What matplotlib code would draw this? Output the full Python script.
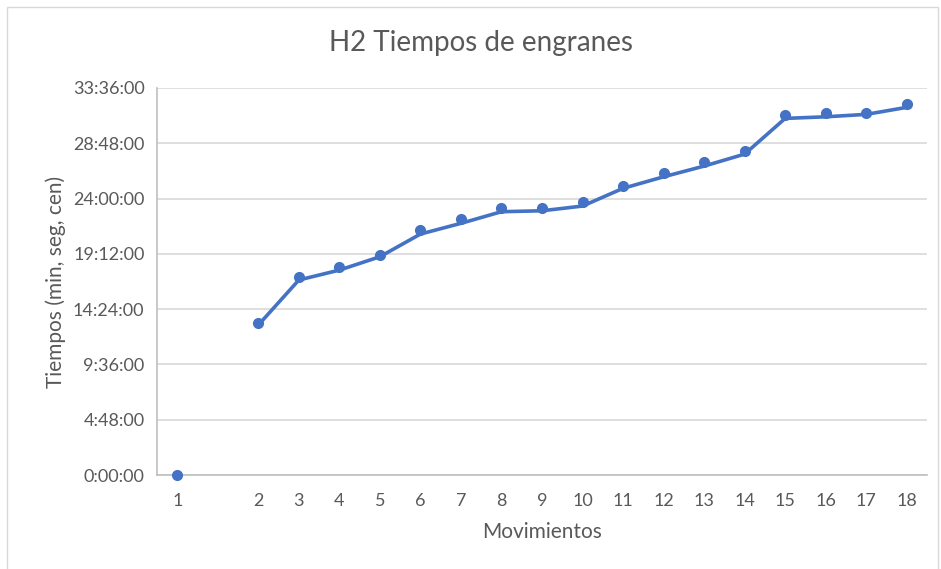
import numpy as np
import matplotlib
matplotlib.use('Agg')
import matplotlib.pyplot as plt
from matplotlib.ticker import FuncFormatter, MultipleLocator
from matplotlib.patches import Rectangle

plt.rcParams['font.family'] = ['Lato', 'DejaVu Sans']

# categories as on the sheet: an empty slot sits between 1 and 2
categories = ['1', '', '2', '3', '4', '5', '6', '7', '8', '9', '10',
              '11', '12', '13', '14', '15', '16', '17', '18']

# times, in the displayed first field (h of h:mm:ss)
puntos = [0.0, np.nan, 13.17, 17.21, 18.08, 19.10, 21.27, 22.19, 23.15, 23.15,
          23.72, 25.09, 26.19, 27.20, 28.15, 31.25, 31.40, 31.40, 32.20]
linea = [np.nan, np.nan, 13.02, 16.93, 17.79, 18.95, 20.92, 21.85, 22.86, 22.94,
         23.35, 24.89, 25.89, 26.82, 27.86, 30.96, 31.10, 31.31, 31.92]

gris = '#595959'
azul = '#4472C4'

fig = plt.figure(figsize=(9.41, 5.69), dpi=100)
ax = fig.add_axes([157/941, 94/569, 770/941, 387/569])

x = np.arange(len(categories))
ax.plot(x, linea, color=azul, linewidth=2.6, solid_joinstyle='round', zorder=3)
ax.plot(x, puntos, linestyle='none', marker='o', markersize=7, color=azul,
        zorder=4, clip_on=False)

ax.set_xlim(-0.5, len(categories) - 0.5)
ax.set_ylim(0, 33.6)
ax.set_xticks(x)
ax.set_xticklabels(categories)
ax.yaxis.set_major_locator(MultipleLocator(4.8))

def hms(v, pos):
    h = int(round(v * 60)) // 60
    m = int(round(v * 60)) % 60
    return f'{h}:{m:02d}:00'

ax.yaxis.set_major_formatter(FuncFormatter(hms))
ax.tick_params(axis='both', length=0, colors=gris, labelsize=13)
ax.tick_params(axis='x', pad=13)
ax.tick_params(axis='y', pad=9)

ax.grid(axis='y', color='#d9d9d9', linewidth=1.2)
ax.set_axisbelow(True)
for s in ['top', 'right']:
    ax.spines[s].set_visible(False)
ax.spines['left'].set_color('#bfbfbf')
ax.spines['bottom'].set_color('#bfbfbf')
ax.spines['left'].set_linewidth(1.2)
ax.spines['bottom'].set_linewidth(1.2)

ax.set_xlabel('Movimientos', color=gris, fontsize=15, labelpad=9)
ax.set_ylabel('Tiempos (min, seg, cen)', color=gris, fontsize=15, labelpad=5)
fig.text(481/941, 1 - 43/569, 'H2 Tiempos de engranes', ha='center', va='center',
         color=gris, fontsize=20)

# outer chart border
fig.patches.append(Rectangle((7/941, -0.01), 931/941, 1 - 7/569 + 0.01,
                             transform=fig.transFigure, fill=False,
                             edgecolor='#d9d9d9', linewidth=1))

fig.savefig('out.png', dpi=100)
